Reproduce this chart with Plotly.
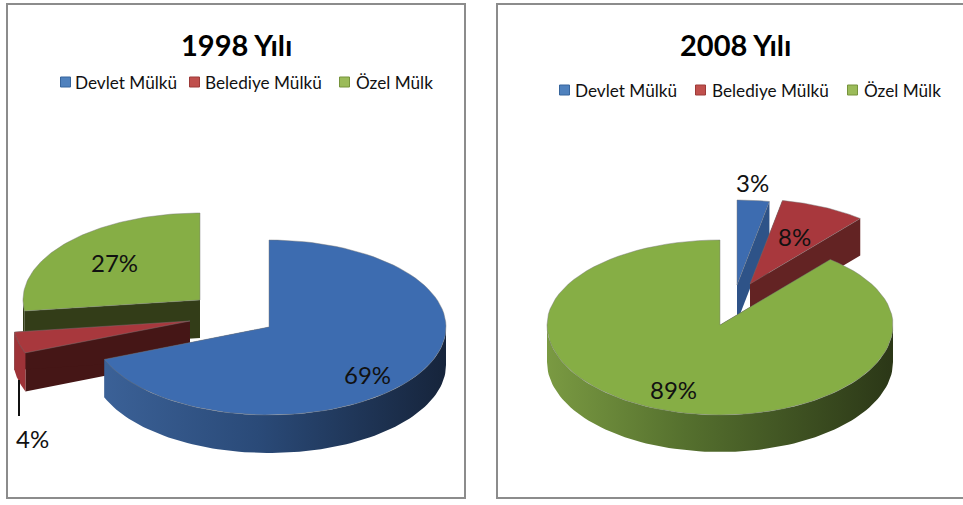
import numpy as np
import plotly.graph_objects as go

# ---- data ----
categories = ["Devlet Mülkü", "Belediye Mülkü", "Özel Mülk"]
shares_1998 = [69, 4, 27]
shares_2008 = [3, 8, 89]
titles = ["1998 Yılı", "2008 Yılı"]

# ---- styling / geometry (pixel space of the 963x505 canvas) ----
FONT = "Lato, Carlito, 'Open Sans', sans-serif"
TOP = ["#3d6cb0", "#a8383d", "#86ae45"]
SWATCH = ["#4f81bd", "#c0504d", "#9bbb59"]
SWATCH_EDGE = ["#37659c", "#9c3a38", "#76933c"]

panels = [
    dict(values=shares_1998, rx=177, ry=87, ry_front=88, depth=38,
         apex=[(269, 327), (190, 321), (200, 300)],
         order=[2, 1, 0],
         cut=["#2e5388", "#451616", "#333d18"],
         wall=[[[0, "#3b6197"], [0.45, "#2a4a78"], [1, "#16243b"]],
               [[0, "#9e3338"], [1, "#9e3338"]],
               [[0, "#333d18"], [1, "#333d18"]]],
         title_x=236, title_y=44,
         swatch_x=[65.5, 194.5, 344.5], legend_text_x=[72.5, 202.5, 353.5], legend_y=82,
         labels=[(367, 374), (32, 438), (114, 262)]),
    dict(values=shares_2008, rx=173, ry=85, ry_front=90, depth=37,
         apex=[(737, 285), (750, 284), (720, 325)],
         order=[0, 1, 2],
         cut=["#2e5388", "#632323", "#333d18"],
         wall=[[[0, "#2e5388"], [1, "#2e5388"]],
               [[0, "#632323"], [1, "#632323"]],
               [[0, "#7a9a42"], [0.4, "#55702e"], [1, "#2b3717"]]],
         title_x=735, title_y=44,
         swatch_x=[564.5, 700.5, 852.5], legend_text_x=[572.5, 709.5, 861.5], legend_y=90,
         labels=[(752, 182), (794, 236), (673, 389)]),
]


def arc(cx, cy, rx, ry, ry_front, a0, a1, n=90):
    t = np.radians(np.linspace(a0, a1, n))
    c = np.cos(t)
    return cx + rx * np.sin(t), cy - np.where(c < 0, ry_front, ry) * c


def poly(x, y, fill=None, gradient=None, line="rgba(0,0,0,0)"):
    kw = dict(fillgradient=dict(type="horizontal", colorscale=gradient)) if gradient else dict(fillcolor=fill)
    return go.Scatter(x=list(x), y=list(y), mode="lines", fill="toself",
                      line=dict(color=line, width=1), hoverinfo="skip",
                      showlegend=False, **kw)


fig = go.Figure()

for p in panels:
    edges = np.cumsum([0] + p["values"]) * 3.6
    rx, ry, ryf, d = p["rx"], p["ry"], p["ry_front"], p["depth"]
    for i in p["order"]:
        a0, a1 = edges[i], edges[i + 1]
        cx, cy = p["apex"][i]
        # cut faces
        for a in (a0, a1):
            ex, ey = arc(cx, cy, rx, ry, ryf, a, a, 1)
            fig.add_trace(poly([cx, ex[0], ex[0], cx, cx],
                               [cy, ey[0], ey[0] + d, cy + d, cy],
                               fill=p["cut"][i]))
        # outer wall, only the part facing the viewer
        w0, w1 = max(a0, 90), min(a1, 270)
        if w1 > w0:
            ax, ay = arc(cx, cy, rx, ry, ryf, w0, w1)
            fig.add_trace(poly(np.r_[ax, ax[::-1], ax[0]],
                               np.r_[ay, ay[::-1] + d, ay[0]],
                               gradient=p["wall"][i]))
        # top surface
        ax, ay = arc(cx, cy, rx, ry, ryf, a0, a1)
        fig.add_trace(poly(np.r_[cx, ax, cx], np.r_[cy, ay, cy],
                           fill=TOP[i], line="rgba(120,120,120,0.45)"))

    # legend row
    for i, name in enumerate(categories):
        fig.add_trace(go.Scatter(
            x=[p["swatch_x"][i]], y=[p["legend_y"]], mode="markers", name=name,
            marker=dict(symbol="square", size=10, color=SWATCH[i],
                        line=dict(color=SWATCH_EDGE[i], width=1)),
            hoverinfo="skip", showlegend=False))
        fig.add_annotation(x=p["legend_text_x"][i], y=p["legend_y"], text=name,
                           xanchor="left", showarrow=False,
                           font=dict(family=FONT, size=17.2, color="#111111"))

    # percent labels
    for (lx, ly), v in zip(p["labels"], p["values"]):
        fig.add_annotation(x=lx, y=ly, text=f"{v}%", showarrow=False,
                           font=dict(family=FONT, size=24, color="#111111"))

for p, t in zip(panels, titles):
    fig.add_annotation(x=p["title_x"], y=p["title_y"], text=f"<b>{t}</b>", showarrow=False,
                       font=dict(family=FONT, size=29, color="#000000"))

frames = [(7, 4, 465, 498), (497, 4, 968, 498)]
shapes = [dict(type="rect", x0=a, y0=b, x1=c, y1=e, xref="x", yref="y", layer="below",
               line=dict(color="#8c8c8c", width=2), fillcolor="white") for a, b, c, e in frames]
shapes.append(dict(type="line", x0=19, x1=19, y0=380, y1=416, xref="x", yref="y",
                   line=dict(color="#111111", width=2)))

fig.update_layout(
    width=963, height=505, margin=dict(l=0, r=0, t=0, b=0),
    paper_bgcolor="white", plot_bgcolor="white", showlegend=False, shapes=shapes,
    xaxis=dict(range=[0, 963], visible=False, fixedrange=True),
    yaxis=dict(range=[505, 0], visible=False, fixedrange=True),
)
fig.write_html("out.html", config=dict(displayModeBar=False),
               post_script="document.body.style.margin='0';document.body.style.overflow='hidden';")
